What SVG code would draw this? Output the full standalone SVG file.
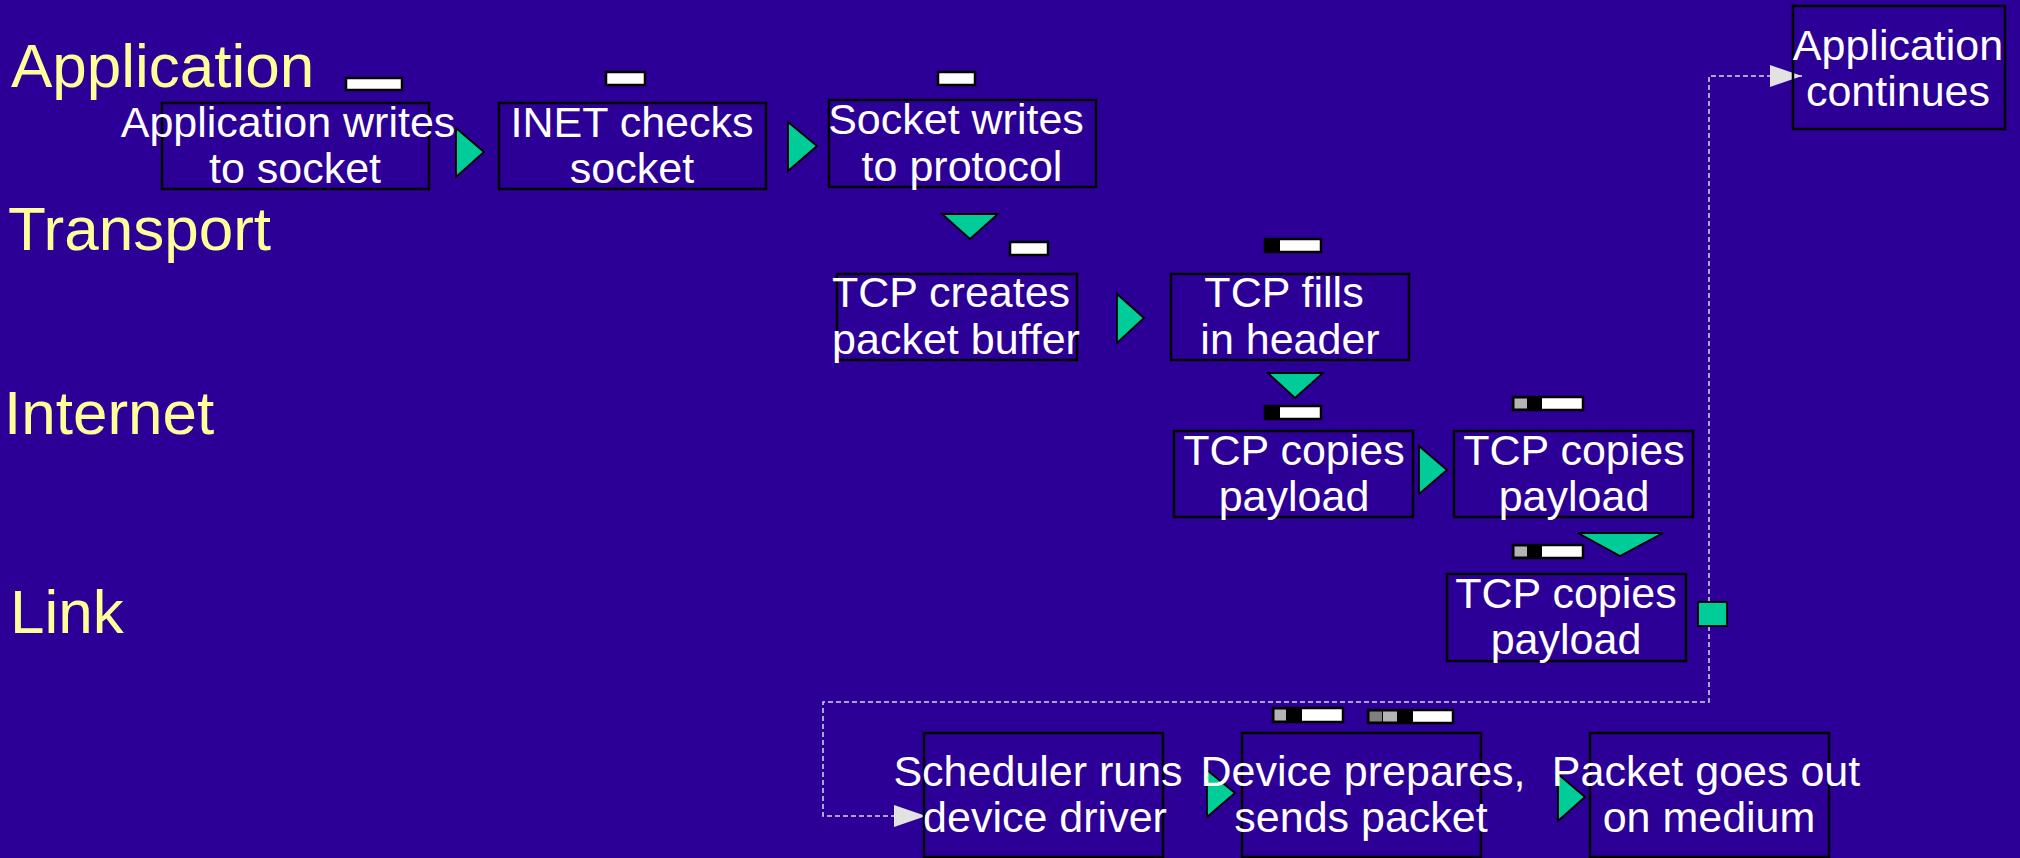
<svg xmlns="http://www.w3.org/2000/svg" width="2020" height="858" viewBox="0 0 2020 858">
  <defs>
    <style>
      .layer { font-family: "Liberation Sans", Arial, sans-serif; font-size: 62px; fill: #FFFF99; }
      .box { fill: none; stroke: #000; stroke-width: 2.5; }
      .label { font-family: "Liberation Sans", Arial, sans-serif; font-size: 43px; fill: #fff; text-anchor: middle; }
      .flow { fill: #00CC99; stroke: #000; stroke-width: 1.8; stroke-linejoin: miter; }
      .link { fill: none; stroke: #D8D8E8; stroke-width: 1.5; stroke-dasharray: 5 3; }
      .pk { stroke: #000; stroke-width: 2.5; }
      .w { fill: #fff; }
      .k { fill: #000; }
      .g1 { fill: #B4B4B4; }
      .g2 { fill: #808080; }
    </style>
    <marker id="tip" markerUnits="userSpaceOnUse" markerWidth="34" markerHeight="24" refX="32" refY="11" orient="auto">
      <path d="M0,0 L32,11 L0,22 Z" fill="#E2E2E2"/>
    </marker>
  </defs>

  <rect width="2020" height="858" fill="#2C0096"/>

  <!-- protocol layers -->
  <g id="layers">
    <text class="layer" x="11" y="87">Application</text>
    <text class="layer" x="8" y="250">Transport</text>
    <text class="layer" x="4" y="434">Internet</text>
    <text class="layer" x="10" y="633">Link</text>
  </g>

  <!-- connectors -->
  <g id="connectors">
    <path class="link" d="M1709,602 V76 H1802" marker-end="url(#tip)"/>
    <path class="link" d="M1709,626 V702 H823 V816 H926" marker-end="url(#tip)"/>
    <polygon class="flow" points="456,128 484,152 456,177"/>
    <polygon class="flow" points="788,122 817,146 788,171"/>
    <polygon class="flow" points="942,214 998,214 970,239"/>
    <polygon class="flow" points="1117,294 1144,318 1117,343"/>
    <polygon class="flow" points="1268,373 1323,373 1295,398"/>
    <polygon class="flow" points="1419,446 1447,470 1419,494"/>
    <polygon class="flow" points="1578,533 1663,533 1620,556"/>
    <rect class="flow" x="1698" y="602" width="29" height="24"/>
    <polygon class="flow" points="1207,770 1235,793 1207,817"/>
    <polygon class="flow" points="1558,774 1585,797 1558,821"/>
  </g>

  <!-- packet buffers -->
  <g id="packets">
    <rect class="pk w" x="346" y="78" width="56" height="12"/>
    <rect class="pk w" x="606" y="72" width="39" height="13"/>
    <rect class="pk w" x="938" y="72" width="37" height="13"/>
    <rect class="pk w" x="1010" y="242" width="38" height="13"/>
    <g>
      <rect class="pk w" x="1265" y="239" width="56" height="13"/>
      <rect class="k" x="1265" y="239" width="15" height="13"/>
    </g>
    <g>
      <rect class="pk w" x="1265" y="406" width="56" height="13"/>
      <rect class="k" x="1265" y="406" width="15" height="13"/>
    </g>
    <g>
      <rect class="pk w" x="1513" y="397" width="70" height="13"/>
      <rect class="k" x="1513" y="397" width="29" height="13"/>
      <rect class="g1" x="1514.5" y="398.5" width="12.5" height="10"/>
    </g>
    <g>
      <rect class="pk w" x="1513" y="545" width="70" height="13"/>
      <rect class="k" x="1513" y="545" width="29" height="13"/>
      <rect class="g1" x="1514.5" y="546.5" width="12.5" height="10"/>
    </g>
    <g>
      <rect class="pk w" x="1273" y="708" width="70" height="14"/>
      <rect class="k" x="1273" y="708" width="29" height="14"/>
      <rect class="g1" x="1274.5" y="709.5" width="11.5" height="11"/>
    </g>
    <g>
      <rect class="pk w" x="1368" y="710" width="85" height="13"/>
      <rect class="k" x="1368" y="710" width="45" height="13"/>
      <rect class="g2" x="1369.5" y="711.5" width="12.5" height="10"/>
      <rect class="g1" x="1383" y="711.5" width="14" height="10"/>
    </g>
  </g>

  <!-- steps -->
  <g id="app-writes">
    <rect class="box" x="162" y="103" width="267" height="86"/>
    <text class="label" x="288" y="137">Application writes</text>
    <text class="label" x="295" y="183">to socket</text>
  </g>
  <g id="inet-checks">
    <rect class="box" x="499" y="103" width="267" height="86"/>
    <text class="label" x="632" y="137">INET checks</text>
    <text class="label" x="632" y="183">socket</text>
  </g>
  <g id="socket-writes">
    <rect class="box" x="829" y="100" width="267" height="87"/>
    <text class="label" x="956" y="134">Socket writes</text>
    <text class="label" x="962" y="181">to protocol</text>
  </g>
  <g id="tcp-creates">
    <rect class="box" x="837" y="274" width="240" height="86"/>
    <text class="label" x="951" y="307">TCP creates</text>
    <text class="label" x="956" y="354">packet buffer</text>
  </g>
  <g id="tcp-fills">
    <rect class="box" x="1171" y="274" width="238" height="86"/>
    <text class="label" x="1284" y="307">TCP fills</text>
    <text class="label" x="1290" y="354">in header</text>
  </g>
  <g id="tcp-copies-1">
    <rect class="box" x="1174" y="431" width="239" height="86"/>
    <text class="label" x="1294" y="465">TCP copies</text>
    <text class="label" x="1294" y="511">payload</text>
  </g>
  <g id="tcp-copies-2">
    <rect class="box" x="1454" y="431" width="239" height="86"/>
    <text class="label" x="1574" y="465">TCP copies</text>
    <text class="label" x="1574" y="511">payload</text>
  </g>
  <g id="tcp-copies-3">
    <rect class="box" x="1447" y="574" width="239" height="87"/>
    <text class="label" x="1566" y="608">TCP copies</text>
    <text class="label" x="1566" y="654">payload</text>
  </g>
  <g id="app-continues">
    <rect class="box" x="1793" y="6" width="212" height="123"/>
    <text class="label" x="1898" y="60">Application</text>
    <text class="label" x="1898" y="106">continues</text>
  </g>
  <g id="scheduler">
    <rect class="box" x="924" y="733" width="239" height="124"/>
    <text class="label" x="1038" y="786">Scheduler runs</text>
    <text class="label" x="1045" y="832">device driver</text>
  </g>
  <g id="device">
    <rect class="box" x="1242" y="733" width="239" height="124"/>
    <text class="label" x="1363" y="786">Device prepares,</text>
    <text class="label" x="1361" y="832">sends packet</text>
  </g>
  <g id="medium">
    <rect class="box" x="1590" y="733" width="239" height="124"/>
    <text class="label" x="1706" y="786">Packet goes out</text>
    <text class="label" x="1709" y="832">on medium</text>
  </g>
</svg>
